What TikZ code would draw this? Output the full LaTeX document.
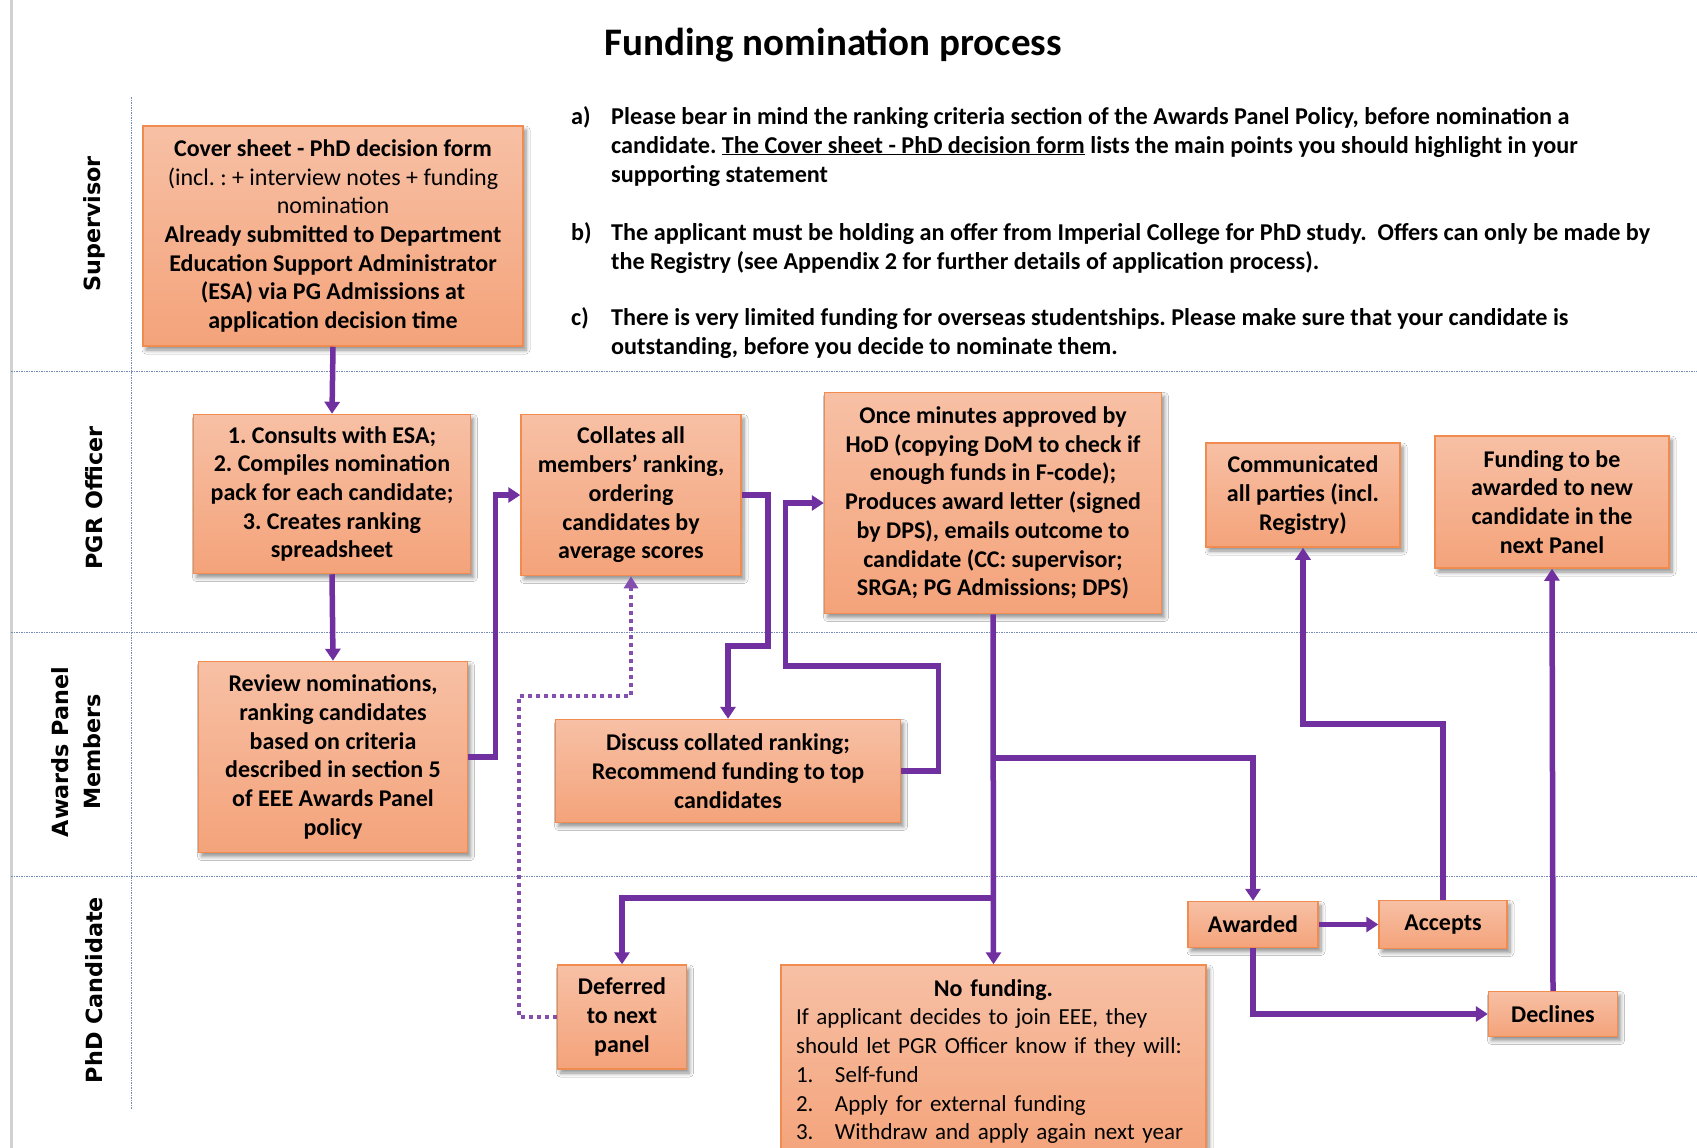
\documentclass[tikz,border=0pt]{standalone}
\usepackage{fontspec}
\setmainfont{Carlito}
\newfontfamily\lanefont{DejaVu Sans}
\usetikzlibrary{arrows.meta,shadows,shadows.blur,calc}
\definecolor{purp}{HTML}{7030A0}
\definecolor{boxtop}{RGB}{247,192,165}
\definecolor{boxbot}{RGB}{244,163,122}
\definecolor{boxline}{RGB}{240,140,80}
\definecolor{sepcol}{RGB}{120,140,185}
\frenchspacing
\begin{document}
\begin{tikzpicture}[x=1pt,y=-1pt,
  box/.style={draw=boxline, line width=1.5pt, top color=boxtop, bottom color=boxbot,
    blur shadow={shadow xshift=3pt, shadow yshift=-4pt, shadow blur radius=4pt, shadow blur steps=6, shadow opacity=45},
    align=center, inner sep=0pt, font=\fontsize{24}{28.7}\selectfont\bfseries},
  arr/.style={draw=purp, line width=5.5pt, -{Triangle[length=12pt,width=15pt]}},
  dotarr/.style={draw=purp!85, line width=4pt, dash pattern=on 4pt off 4pt, -{Triangle[length=12pt,width=14pt]}},
  sep/.style={draw=sepcol, line width=1pt, dash pattern=on 1.5pt off 1pt},
  lane/.style={rotate=90, font=\lanefont\fontsize{22.3}{32}\selectfont\bfseries, align=center},
  bul/.style={anchor=base west, inner sep=0pt, font=\fontsize{24.2}{29}\selectfont\bfseries}
]
\useasboundingbox[fill=white] (0,0) rectangle (1697,1148);
\draw[line width=3pt, black!18] (11,0) -- (11,1148);

% title
\node[font=\fontsize{39}{46}\selectfont\bfseries] (title) at (833,45) {Funding nomination process};

% lane separators
\draw[sep] (11,371) -- (1697,371);
\draw[sep] (11,632) -- (1697,632);
\draw[sep] (11,876) -- (1697,876);
\draw[sep] (131,97) -- (131,1109);

% lane labels
\node[lane] (l1) at (94,224) {Supervisor};
\node[lane] (l2) at (94,498) {PGR Officer};
\node[lane] (l3) at (76,752) {Awards Panel\\Members};
\node[lane] (l4) at (94,990) {PhD Candidate};

% notes
\node[bul] (na) at (571,124) {a)};
\node[bul] (na1) at (611,124) {Please bear in mind the ranking criteria section of the Awards Panel Policy, before nomination a};
\node[bul] (na2) at (611,153) {candidate. \underline{The Cover sheet - PhD decision form} lists the main points you should highlight in your};
\node[bul] (na3) at (611,182) {supporting statement};
\node[bul] (nb) at (571,240) {b)};
\node[bul] (nb1) at (611,240) {The applicant must be holding an offer from Imperial College for PhD study.\ \ Offers can only be made by};
\node[bul] (nb2) at (611,269) {the Registry (see Appendix 2 for further details of application process).};
\node[bul] (nc) at (571,325) {c)};
\node[bul] (nc1) at (611,325) {There is very limited funding for overseas studentships. Please make sure that your candidate is};
\node[bul] (nc2) at (611,354) {outstanding, before you decide to nominate them.};

% boxes
\node[box, minimum width=380pt, minimum height=220pt] (cover) at (333,236)
  {Cover sheet - PhD decision form\\ \mdseries(incl. : + interview notes + funding\\ \mdseries nomination\\
   Already submitted to Department\\Education Support Administrator\\(ESA) via PG Admissions at\\application decision time};
\node[box, minimum width=277pt, minimum height=159pt] (consults) at (332,494)
  {1. Consults with ESA;\\2. Compiles nomination\\pack for each candidate;\\3. Creates ranking\\spreadsheet};
\node[box, minimum width=220pt, minimum height=161pt] (collates) at (631,495)
  {Collates all\\members’ ranking,\\ordering\\candidates by\\average scores};
\node[box, minimum width=337pt, minimum height=221pt] (once) at (993,503)
  {Once minutes approved by\\HoD (copying DoM to check if\\enough funds in F-code);\\Produces award letter (signed\\by DPS), emails outcome to\\candidate (CC: supervisor;\\SRGA; PG Admissions; DPS)};
\node[box, minimum width=194pt, minimum height=104pt] (comm) at (1303,495)
  {Communicated\\all parties (incl.\\Registry)};
\node[box, minimum width=234pt, minimum height=132pt] (fund) at (1552,502)
  {Funding to be\\awarded to new\\candidate in the\\next Panel};
\node[box, minimum width=269pt, minimum height=191pt] (review) at (333,757)
  {Review nominations,\\ranking candidates\\based on criteria\\described in section 5\\of EEE Awards Panel\\policy};
\node[box, minimum width=345pt, minimum height=103pt] (discuss) at (728,771)
  {Discuss collated ranking;\\Recommend funding to top\\candidates};
\node[box, minimum width=130pt, minimum height=46pt] (awarded) at (1253,924.5) {Awarded};
\node[box, minimum width=128pt, minimum height=48pt] (accepts) at (1443,924.5) {Accepts};
\node[box, minimum width=129pt, minimum height=45pt] (declines) at (1553,1014) {Declines};
\node[box, minimum width=129pt, minimum height=104pt] (deferred) at (622,1017) {Deferred\\to next\\panel};
\node[box, minimum width=425pt, minimum height=193pt, text width=395pt, align=left,
      font=\fontsize{23}{28.7}\selectfont\mdseries] (nofund) at (993.5,1061.5)
  {\makebox[395pt]{\fontsize{24}{28.7}\selectfont\bfseries No funding.}\\
   If applicant decides to join EEE, they\\
   should let PGR Officer know if they will:\\
   \makebox[39pt][l]{1.}Self-fund\\
   \makebox[39pt][l]{2.}Apply for external funding\\
   \makebox[39pt][l]{3.}Withdraw and apply again next year};

% junctions
\coordinate (j1) at (once.south |- 0,758);
\coordinate (j2) at (once.south |- 0,898);

% connectors
\draw[arr] (cover.south) -- (consults.north);
\draw[arr] (consults.south) -- (review.north);
\draw[arr] (review.east) -- ++(27,0) |- (collates.west);
\draw[arr] (collates.east) -- ++(26,0) -- ++(0,151) -| (discuss.north);
\draw[arr] (discuss.east) -- ++(37,0) -- ++(0,-105) -- ++(-153,0) |- (once.west);
\draw[arr] (once.south) -- (nofund.north);
\draw[arr] (j1) -| (awarded.north);
\draw[arr] (j2) -| (deferred.north);
\draw[arr] (awarded.east) -- (accepts.west);
\draw[arr] (awarded.south) |- (declines.west);
\draw[arr] (accepts.north) -- ++(0,-176) -| (comm.south);
\draw[arr] (declines.north) -- (fund.south);
\draw[dotarr] (deferred.west) -- ++(-38,0) -- ++(0,-321) -| (collates.south);
\end{tikzpicture}
\end{document}
